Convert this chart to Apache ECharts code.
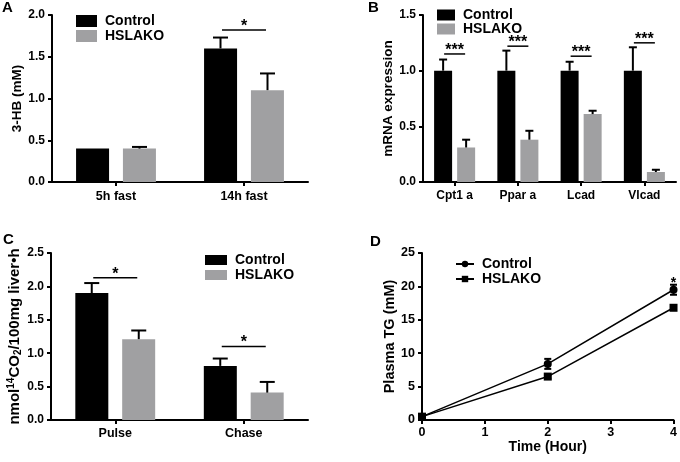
<!DOCTYPE html>
<html><head><meta charset="utf-8">
<script src="https://cdn.jsdelivr.net/npm/echarts@6/dist/echarts.min.js"></script>
<style>html,body{margin:0;padding:0;background:#fff}#c{width:680px;height:462px}</style>
</head><body><div id="c"></div>
<script>
const FONT = '"Liberation Sans", Arial, Helvetica, sans-serif';
// ---- Panel A ----
const catsA = ['5h fast', '14h fast'];
const ctrlA = [0.40, 1.60];
const ctrlErrA = [0.00, 0.13];
const hslA = [0.40, 1.10];
const hslErrA = [0.02, 0.20];
const sigYA = [null, 1.82];
const sigTextA = ['', '*'];
const ticksA = {max: 2.0, interval: 0.5};
// ---- Panel B ----
const catsB = ['Cpt1 a', 'Ppar a', 'Lcad', 'Vlcad'];
const ctrlB = [1.00, 1.00, 1.00, 1.00];
const ctrlErrB = [0.10, 0.18, 0.08, 0.21];
const hslB = [0.31, 0.38, 0.61, 0.09];
const hslErrB = [0.07, 0.08, 0.03, 0.02];
const sigYB = [1.15, 1.22, 1.13, 1.25];
const sigTextB = ['***', '***', '***', '***'];
const ticksB = {max: 1.5, interval: 0.5};
// ---- Panel C ----
const catsC = ['Pulse', 'Chase'];
const ctrlC = [1.90, 0.81];
const ctrlErrC = [0.15, 0.11];
const hslC = [1.21, 0.41];
const hslErrC = [0.13, 0.16];
const sigYC = [2.13, 1.10];
const sigTextC = ['*', '*'];
const ticksC = {max: 2.5, interval: 0.5};
// ---- Panel D ----
const timeD = [0, 2, 4];
const ctrlD = [0.5, 8.4, 19.5];
const ctrlErrD = [0.2, 0.75, 0.75];
const hslD = [0.5, 6.5, 16.8];
const hslErrD = [0.1, 0.3, 0.3];
const sigXD = [4];
const sigYD = [20.0];
const sigTextD = ['*'];
const ticksD = {xmax: 4, xinterval: 1, ymax: 25, yinterval: 5};

const colors = ['#000000', '#a0a0a2'];

const grids = [
  {left: 52, top: 15, width: 256, height: 167},
  {left: 423, top: 15, width: 253, height: 167},
  {left: 51, top: 253, width: 257, height: 167},
  {left: 422, top: 253, width: 253, height: 167}
];

const axisLineStyle = {color: '#000', width: 2};
function catX(gi, cats, fs, margin) {
  return {type: 'category', gridIndex: gi, data: cats,
    axisLine: {show: true, lineStyle: axisLineStyle},
    axisTick: {show: true, alignWithLabel: true, length: 4, lineStyle: axisLineStyle},
    axisLabel: {color: '#000', fontFamily: FONT, fontWeight: 'bold', fontSize: fs, margin: margin},
    splitLine: {show: false}};
}
function valAxis(gi, min, max, interval, dec, name, nameGap, nameFs, rich, fs) {
  return {type: 'value', gridIndex: gi, min: min, max: max, interval: interval,
    name: name, nameLocation: 'middle', nameGap: nameGap,
    nameTextStyle: {color: '#000', fontFamily: FONT, fontWeight: 'bold', fontSize: nameFs, rich: rich},
    axisLine: {show: true, onZero: false, lineStyle: axisLineStyle},
    axisTick: {show: true, length: 4, lineStyle: axisLineStyle},
    axisLabel: {color: '#000', fontFamily: FONT, fontWeight: 'bold', fontSize: fs, margin: 7,
      formatter: v => v.toFixed(dec)},
    splitLine: {show: false}};
}

function barSeries(name, gi, data, color, width, gap) {
  return {type: 'bar', name: name, xAxisIndex: gi, yAxisIndex: gi, data: data,
    barWidth: width, barGap: gap, itemStyle: {color: color}, silent: true, z: 2};
}
function errSeries(gi, means, errs, dx, cap) {
  return {type: 'custom', xAxisIndex: gi, yAxisIndex: gi, silent: true, z: 3,
    data: means.map((m, i) => [i, m, m + errs[i]]),
    encode: {x: 0, y: [1, 2]},
    renderItem: function (params, api) {
      const c0 = api.coord([api.value(0), api.value(1)]);
      const c1 = api.coord([api.value(0), api.value(2)]);
      const x = c0[0] + dx;
      if (c0[1] - c1[1] < 0.5) return {type: 'group', children: []};
      return {type: 'group', children: [
        {type: 'line', shape: {x1: x, y1: c0[1], x2: x, y2: c1[1]}, style: {stroke: '#000', lineWidth: 2}},
        {type: 'line', shape: {x1: x - cap, y1: c1[1], x2: x + cap, y2: c1[1]}, style: {stroke: '#000', lineWidth: 2}}
      ]};
    }};
}
function sigSeries(gi, xs, ys, texts, half, fs) {
  const data = [];
  ys.forEach((y, i) => { if (y != null) data.push([xs[i], y, i]); });
  return {type: 'custom', xAxisIndex: gi, yAxisIndex: gi, silent: true, z: 4,
    data: data, encode: {x: 0, y: 1}, clip: false,
    renderItem: function (params, api) {
      const c = api.coord([api.value(0), api.value(1)]);
      const t = texts[api.value(2)];
      const ch = [];
      if (half > 0) ch.push({type: 'line', shape: {x1: c[0] - half, y1: c[1], x2: c[0] + half, y2: c[1]},
        style: {stroke: '#000', lineWidth: 1.5}});
      ch.push({type: 'text', x: c[0], y: c[1] + fs * 0.28,
        style: {text: t, fill: '#000', font: 'bold ' + fs + 'px ' + FONT, textAlign: 'center', textVerticalAlign: 'bottom'}});
      return {type: 'group', children: ch};
    }};
}
function dErr(gi, xs, means, errs, cap) {
  return {type: 'custom', xAxisIndex: gi, yAxisIndex: gi, silent: true, z: 3, clip: false,
    data: xs.map((x, i) => [x, means[i] - errs[i], means[i] + errs[i]]),
    encode: {x: 0, y: [1, 2]},
    renderItem: function (params, api) {
      const lo = api.coord([api.value(0), api.value(1)]);
      const hi = api.coord([api.value(0), api.value(2)]);
      const x = lo[0];
      return {type: 'group', children: [
        {type: 'line', shape: {x1: x, y1: lo[1], x2: x, y2: hi[1]}, style: {stroke: '#000', lineWidth: 2}},
        {type: 'line', shape: {x1: x - cap, y1: hi[1], x2: x + cap, y2: hi[1]}, style: {stroke: '#000', lineWidth: 2}},
        {type: 'line', shape: {x1: x - cap, y1: lo[1], x2: x + cap, y2: lo[1]}, style: {stroke: '#000', lineWidth: 2}}
      ]};
    }};
}

const legText = {color: '#000', fontFamily: FONT, fontWeight: 'bold', fontSize: 14, padding: [0, 0, 0, 3]};
function legend(names, left, top, iw, ih, gap, icon) {
  const l = {data: names, left: left, top: top, orient: 'vertical', itemWidth: iw, itemHeight: ih,
    itemGap: gap, selectedMode: false, textStyle: legText, padding: 0,
    formatter: n => n.split('|')[0]};
  if (icon) l.icon = icon;
  return l;
}

const richC = {
  a: {fontFamily: FONT, fontWeight: 'bold', fontSize: 15, color: '#000'},
  sup: {fontFamily: FONT, fontWeight: 'bold', fontSize: 10, color: '#000', verticalAlign: 'top', lineHeight: 17},
  sub: {fontFamily: FONT, fontWeight: 'bold', fontSize: 10, color: '#000', verticalAlign: 'bottom', lineHeight: 17}
};

const option = {
  animation: false,
  backgroundColor: '#fff',
  textStyle: {fontFamily: FONT},
  grid: grids,
  xAxis: [
    catX(0, catsA, 12.5, 8),
    catX(1, catsB, 12, 8),
    catX(2, catsC, 12.5, 7),
    {type: 'value', gridIndex: 3, min: 0, max: ticksD.xmax, interval: ticksD.xinterval,
      name: 'Time (Hour)', nameLocation: 'middle', nameGap: 17,
      nameTextStyle: {color: '#000', fontFamily: FONT, fontWeight: 'bold', fontSize: 14},
      axisLine: {show: true, onZero: false, lineStyle: axisLineStyle},
      axisTick: {show: true, length: 4, lineStyle: axisLineStyle},
      axisLabel: {color: '#000', fontFamily: FONT, fontWeight: 'bold', fontSize: 12.5, margin: 6},
      splitLine: {show: false}}
  ],
  yAxis: [
    valAxis(0, 0, ticksA.max, ticksA.interval, 1, '3-HB (mM)', 27, 13.5, null, 12),
    valAxis(1, 0, ticksB.max, ticksB.interval, 1, 'mRNA expression', 26, 13.5, null, 12),
    valAxis(2, 0, ticksC.max, ticksC.interval, 1, '{a|nmol}{sup|14}{a|CO}{sub|2}{a|/100mg liver•h}', 25, 15, richC, 12),
    valAxis(3, 0, ticksD.ymax, ticksD.yinterval, 0, 'Plasma TG (mM)', 25, 14.5, null, 12.5)
  ],
  legend: [
    legend(['Control|A', 'HSLAKO|A'], 76, 14, 21, 12, 1, 'rect'),
    legend(['Control|B', 'HSLAKO|B'], 437, 8, 18, 11, 0, 'rect'),
    legend(['Control|C', 'HSLAKO|C'], 205, 253, 22, 10, 1, 'rect'),
    legend(['Control|D', 'HSLAKO|D'], 455, 257, 18, 8, 1, null)
  ],
  graphic: [
    {type: 'text', left: 2, top: 0, style: {text: 'A', font: 'bold 15px ' + FONT, fill: '#000'}},
    {type: 'text', left: 368, top: 0, style: {text: 'B', font: 'bold 15px ' + FONT, fill: '#000'}},
    {type: 'text', left: 3, top: 232, style: {text: 'C', font: 'bold 15px ' + FONT, fill: '#000'}},
    {type: 'text', left: 370, top: 234, style: {text: 'D', font: 'bold 15px ' + FONT, fill: '#000'}}
  ],
  series: [
    barSeries('Control|A', 0, ctrlA, colors[0], 33, '42%'),
    barSeries('HSLAKO|A', 0, hslA, colors[1], 33, '42%'),
    errSeries(0, ctrlA, ctrlErrA, -23.5, 7.5),
    errSeries(0, hslA, hslErrA, 23.5, 7.5),
    sigSeries(0, [0, 1], sigYA, sigTextA, 22, 16),

    barSeries('Control|B', 1, ctrlB, colors[0], 18, '28%'),
    barSeries('HSLAKO|B', 1, hslB, colors[1], 18, '28%'),
    errSeries(1, ctrlB, ctrlErrB, -11.5, 4),
    errSeries(1, hslB, hslErrB, 11.5, 4),
    sigSeries(1, [0, 1, 2, 3], sigYB, sigTextB, 10.5, 16),

    barSeries('Control|C', 2, ctrlC, colors[0], 33, '42%'),
    barSeries('HSLAKO|C', 2, hslC, colors[1], 33, '42%'),
    errSeries(2, ctrlC, ctrlErrC, -23.5, 7.5),
    errSeries(2, hslC, hslErrC, 23.5, 7.5),
    sigSeries(2, [0, 1], sigYC, sigTextC, 22, 16),

    {type: 'line', name: 'Control|D', xAxisIndex: 3, yAxisIndex: 3, clip: false,
      data: timeD.map((t, i) => [t, ctrlD[i]]), symbol: 'circle', symbolSize: 8,
      lineStyle: {color: '#000', width: 1.5}, itemStyle: {color: '#000'}, silent: true, z: 3},
    {type: 'line', name: 'HSLAKO|D', xAxisIndex: 3, yAxisIndex: 3, clip: false,
      data: timeD.map((t, i) => [t, hslD[i]]), symbol: 'rect', symbolSize: 8,
      lineStyle: {color: '#000', width: 1.5}, itemStyle: {color: '#000'}, silent: true, z: 3},
    dErr(3, timeD, ctrlD, ctrlErrD, 3.5),
    dErr(3, timeD, hslD, hslErrD, 3.5),
    sigSeries(3, sigXD, sigYD, sigTextD, 0, 14)
  ]
};
const chart = echarts.init(document.getElementById('c'), null, {renderer: 'canvas'});
chart.setOption(option);
</script>
</body></html>
